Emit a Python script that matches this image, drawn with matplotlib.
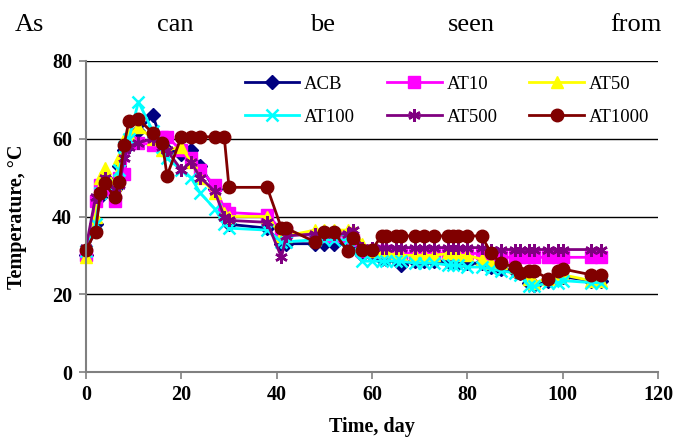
import matplotlib
matplotlib.use("Agg")
import matplotlib.pyplot as plt

days = [0, 2, 3, 4, 6, 7, 8, 9, 11, 14, 16, 17, 20, 22, 24, 27, 29, 30, 38, 41, 42,
        48, 50, 52, 55, 56, 58, 60, 62, 63, 65, 66, 69, 71, 73, 76, 77, 78, 80, 83,
        85, 87, 90, 91, 93, 94, 97, 99, 100, 106, 108]

acb = [30, 38, 45, 50, 47, 53, 57, 60, 62, 66, 59, 57, 56, 57, 53, 47, 41, 38, 37, 33, 33,
       33, 33, 33, 33, 33, 30, 30, 29, 29, 29, 27.5, 28.5, 28.5, 28.5, 28.5, 28.5, 28, 28, 28,
       27, 26.5, 26, 25.5, 23, 22.5, 23.5, 24, 24.5, 23.5, 23.5]
at10 = [30, 44, 48, 47, 44, 50, 51, 59, 59, 58.5, 60.5, 60.5, 57, 55, 52, 48, 42, 41, 40.5, 36.5, 36,
        35, 35, 35, 35, 34, 31, 31, 31, 31, 30.5, 30.5, 30.5, 30.5, 30.5, 30.5, 30.5, 30.5, 30.5, 30.5,
        29.5, 29.5, 29.5, 29.5, 29.5, 29.5, 29.5, 29.5, 29.5, 29.5, 29.5]
at50 = [29.5, 40, 50, 52.5, 48, 55, 60, 61, 63, 60, 57, 57, 58, 54, 50, 46, 41, 40, 40, 35, 35,
        36.5, 36.5, 36.5, 36.5, 36.5, 33, 31, 31, 31, 30, 30, 30, 30, 30, 30.5, 30.5, 30, 30, 29,
        28, 28, 27, 26, 24, 23, 24, 24.5, 25, 23.5, 23.5]
at100 = [31, 38, 46, 48, 46, 52, 58, 60, 69.5, 62, 58, 55, 52, 50, 46, 42, 38, 37, 36.5, 33.5, 33.5,
         34, 34, 34, 34, 31, 28.5, 28.5, 28.5, 28.5, 28.5, 28.5, 28, 28, 28, 27.5, 27.5, 27.5, 27, 27,
         26.5, 26, 25.5, 25, 22, 22, 23, 23, 23.5, 23, 23]
at500 = [32, 45, 46, 50, 47, 48, 55, 58, 59, 60, 58, 57, 52, 54, 50, 46.5, 40, 39, 38.5, 29.5, 35,
         35.5, 35.5, 35.5, 35.5, 36.5, 32, 32, 32, 32, 32, 32, 32, 32, 32, 32, 32, 32, 32, 32,
         31.5, 31.5, 31.5, 31.5, 31.5, 31.5, 31.5, 31.5, 31.5, 31.5, 31.5]
at1000 = [31.5, 36, 46, 48.5, 45, 49, 58.5, 64.5, 65, 61.5, 59, 50.5, 60.5, 60.5, 60.5, 60.5, 60.5, 47.5, 47.5, 37, 37,
          33.5, 36, 36, 31, 34.5, 31.5, 31.5, 35, 35, 35, 35, 35, 35, 35, 35, 35, 35, 35, 35,
          30.5, 28, 27, 25.5, 26, 26, 24, 26, 26.5, 25, 25]

series_names = ["ACB", "AT10", "AT50", "AT100", "AT500", "AT1000"]
x_ticks = [0, 20, 40, 60, 80, 100, 120]
y_ticks = [0, 20, 40, 60, 80]

styles = [
    dict(color="#000080", marker="D", ms=7),
    dict(color="#FF00FF", marker="s", ms=8),
    dict(color="#FFFF00", marker="^", ms=8),
    dict(color="#00FFFF", marker="x", ms=8, mew=1.8),
    dict(color="#800080", marker=(6, 2, 0), ms=9, mew=1.8),
    dict(color="#800000", marker="o", ms=9),
]

plt.rcParams["font.family"] = ["Liberation Serif", "DejaVu Serif"]

fig = plt.figure(figsize=(6.73, 4.43), dpi=100)
ax = fig.add_axes([86 / 673, 71 / 443, 572 / 673, 311 / 443])

handles = []
for name, vals, st in zip(series_names, [acb, at10, at50, at100, at500, at1000], styles):
    h, = ax.plot(days, vals, color=st["color"], marker=st["marker"], ms=st["ms"],
                 mew=st.get("mew", 1), mec=st["color"], mfc=st["color"], lw=2, label=name,
                 clip_on=False)
    handles.append(h)

ax.set_xlim(0, 120)
ax.set_ylim(0, 80)
ax.set_xticks(x_ticks)
ax.set_yticks(y_ticks)
ax.set_xticklabels([str(v) for v in x_ticks], fontsize=14.5, fontweight="bold")
ax.set_yticklabels([str(v) for v in y_ticks], fontsize=14.5, fontweight="bold")
ax.yaxis.grid(True, color="black", lw=1)
ax.set_axisbelow(True)
for s in ["top", "right"]:
    ax.spines[s].set_visible(False)
ax.spines["left"].set_color("#808080")
ax.spines["bottom"].set_color("#808080")
ax.spines["left"].set_linewidth(1.5)
ax.spines["bottom"].set_linewidth(1.5)
ax.tick_params(axis="both", direction="out", length=5, color="#808080", width=1.2)
ax.tick_params(axis="x", pad=4)
ax.tick_params(axis="y", pad=5)
ax.set_xlabel("Time, day", fontsize=14.5, fontweight="bold", labelpad=9)
ax.set_ylabel("Temperature, °C", fontsize=14.5, fontweight="bold", labelpad=18)

# row-wise legend order (ACB, AT10, AT50 / AT100, AT500, AT1000)
order = [0, 3, 1, 4, 2, 5]
leg = ax.legend([handles[i] for i in order], [series_names[i] for i in order],
                ncol=3, loc="upper right", bbox_to_anchor=(1.0143, 1.007), fontsize=13.5,
                frameon=True, fancybox=False, edgecolor="white", facecolor="white",
                framealpha=1, handlelength=2.9, columnspacing=1.7, borderpad=0.4,
                labelspacing=0.85, handletextpad=0.27)

words = [("As", 15), ("can", 157), ("be", 310), ("seen", 448), ("from", 610)]
for w, x in words:
    fig.text(x / 673, 1 - 25 / 443, w, fontsize=19, ha="left", va="center")

fig.savefig("out.png", dpi=100)
